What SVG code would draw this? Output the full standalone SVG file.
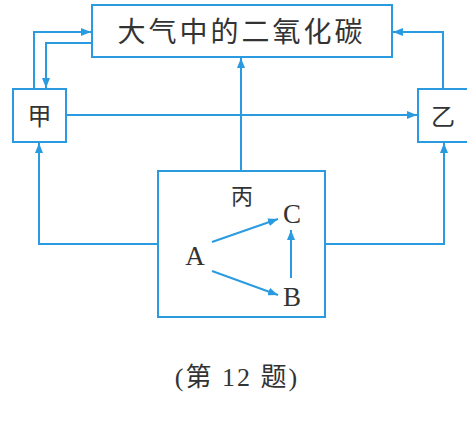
<svg xmlns="http://www.w3.org/2000/svg" width="467" height="428" viewBox="0 0 467 428">
<style>
.box{fill:#fff;stroke:#2a9be0;stroke-width:2}
.ln{fill:none;stroke:#2a9be0;stroke-width:2}
.cjk{font-family:"Noto Sans CJK SC","Noto Sans",sans-serif;fill:#333;text-anchor:middle}
.lat{font-family:"Liberation Serif",serif;fill:#333;text-anchor:middle}
</style>
<defs>
<marker id="ah" markerWidth="10" markerHeight="8" refX="10" refY="4" orient="auto" markerUnits="userSpaceOnUse">
<path d="M0,0 L10,4 L0,8 Z" fill="#2a9be0"/>
</marker>
</defs>
<rect width="467" height="428" fill="#fff"/>
<g id="bing">
<rect x="158" y="171" width="167" height="146" style="fill:none;stroke:#2a9be0;stroke-width:2"/>
<text class="cjk" x="242" y="204" font-size="22">丙</text>
</g>
<g id="connectors">
<polyline class="ln" points="34,89 34,32 91,32" marker-end="url(#ah)"/>
<polyline class="ln" points="92,43 46,43 46,88" marker-end="url(#ah)"/>
<line class="ln" x1="66" y1="115" x2="417" y2="115" marker-end="url(#ah)"/>
<polyline class="ln" points="443,89 443,32 393,32" marker-end="url(#ah)"/>
<line class="ln" x1="241" y1="171" x2="241" y2="58" marker-end="url(#ah)"/>
<polyline class="ln" points="158,244 39,244 39,143" marker-end="url(#ah)"/>
<polyline class="ln" points="325,244 444,244 444,143" marker-end="url(#ah)"/>
<line class="ln" x1="212" y1="242" x2="278" y2="219" marker-end="url(#ah)"/>
<line class="ln" x1="212" y1="271" x2="278" y2="295" marker-end="url(#ah)"/>
<line class="ln" x1="291" y1="278" x2="291" y2="230" marker-end="url(#ah)"/>
</g>
<g id="co2">
<rect class="box" x="92" y="5" width="300" height="52"/>
<text class="cjk" x="241.5" y="42" font-size="28" letter-spacing="3">大气中的二氧化碳</text>
</g>
<g id="jia">
<rect class="box" x="13" y="89" width="53" height="53"/>
<text class="cjk" x="39.5" y="125" font-size="24">甲</text>
</g>
<g id="yi">
<rect class="box" x="418" y="89" width="54" height="53"/>
<text class="cjk" x="443" y="125" font-size="24">乙</text>
</g>
<g id="A"><text class="lat" x="195" y="265" font-size="27">A</text></g>
<g id="B"><text class="lat" x="292" y="306" font-size="27">B</text></g>
<g id="C"><text class="lat" x="292" y="223" font-size="27">C</text></g>
<text x="237" y="386" font-size="26" letter-spacing="2" text-anchor="middle" style="font-family:'Liberation Serif','Noto Sans CJK SC',serif;fill:#333">(第 12 题)</text>
</svg>
